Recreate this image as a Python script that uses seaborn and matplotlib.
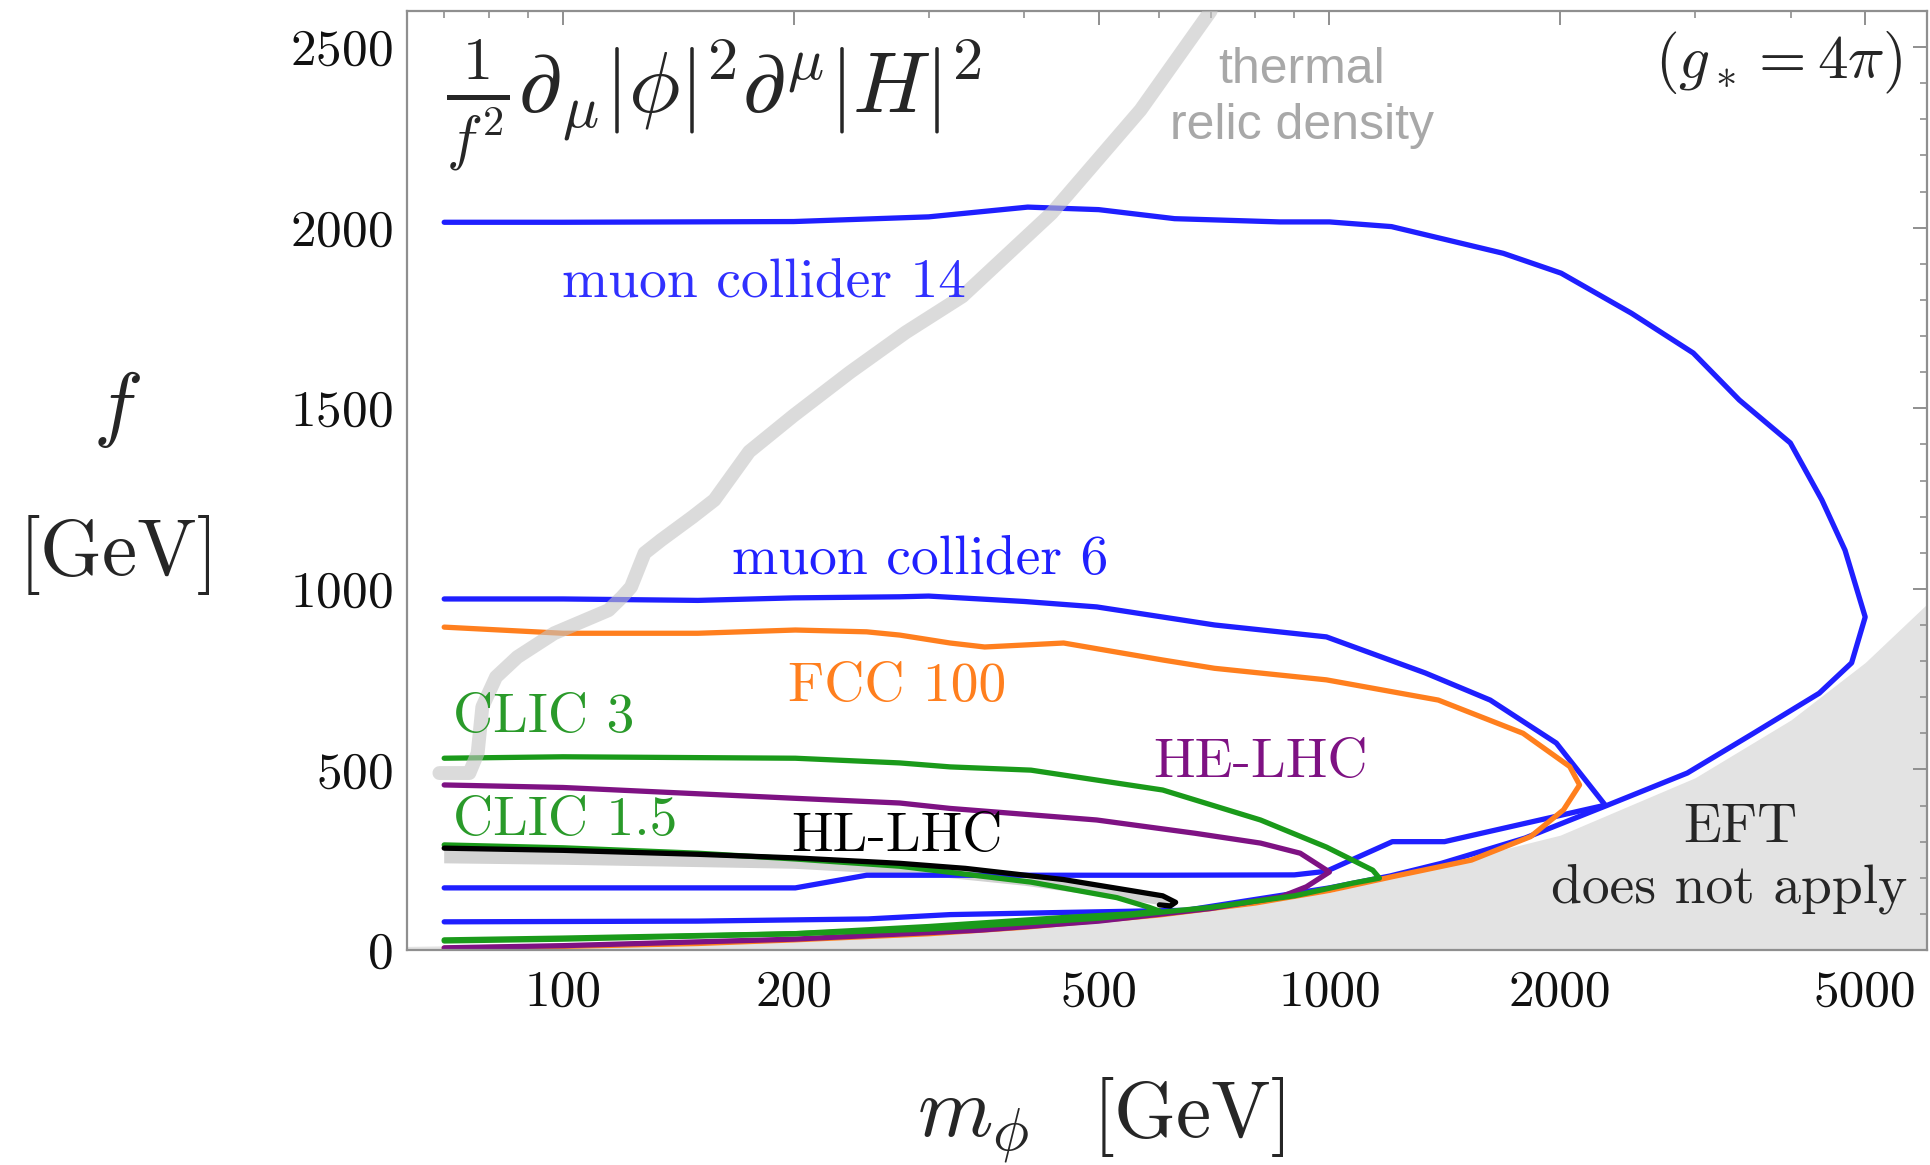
import matplotlib
matplotlib.use("Agg")
import matplotlib.pyplot as plt
import seaborn as sns
import numpy as np
import pandas as pd
from matplotlib.ticker import FixedLocator, MultipleLocator, NullFormatter

# ---------------- data ----------------
mu14_m = [70, 100, 200, 300, 404, 500, 628, 861, 1000, 1205, 1686, 2006, 2478, 2983, 3425, 3993, 4390, 4706, 5000,
          4800, 4355, 3574, 2930, 2300, 1800, 1400, 1200, 1000, 800, 650, 450, 320, 250, 150, 70]
mu14_f = [2015, 2015, 2017, 2030, 2057, 2050, 2025, 2016, 2016, 2003, 1929, 1874, 1763, 1653, 1523, 1404, 1246, 1107, 922,
          795, 711, 600, 490, 400, 310, 240, 205, 172, 140, 110, 104, 98, 86, 80, 78]

mu6_m = [70, 100, 150, 200, 275, 300, 400, 497, 708, 991, 1334, 1621, 1977, 2290,
         1686, 1413, 1208, 991, 900, 600, 249, 201, 70]
mu6_f = [972, 972, 968, 975, 978, 980, 965, 950, 900, 867, 767, 692, 573, 401,
         337, 300, 300, 218, 208, 207, 207, 172, 172]

fcc_m = [70, 100, 150, 201, 249, 275, 320, 355, 450, 606, 708, 991, 1387, 1789, 2058, 2120,
         2020, 1830, 1532, 1208, 1000, 800, 600, 400, 300, 200, 150, 100, 70]
fcc_f = [894, 877, 877, 886, 881, 872, 850, 839, 850, 803, 780, 748, 692, 600, 508, 457,
         388, 314, 249, 203, 165, 130, 97, 63, 45, 28, 18, 10, 5]

helhc_m = [70, 100, 201, 275, 320, 497, 669, 813, 916, 1000, 933, 864, 700, 500, 350, 200, 100, 70]
helhc_f = [457, 450, 420, 407, 392, 360, 323, 296, 268, 216, 175, 147, 115, 80, 55, 30, 12, 6]

clic3_m = [70, 100, 201, 275, 320, 408, 606, 813, 991, 1139, 1162, 1072, 900, 700, 500, 300, 200, 100, 70]
clic3_f = [531, 535, 531, 518, 507, 498, 443, 360, 285, 221, 199, 185, 150, 118, 88, 58, 45, 33, 28]

clic15_m = [70, 100, 150, 201, 275, 350, 408, 528, 582, 600, 550, 450, 300, 200, 100, 70]
clic15_f = [291, 283, 268, 252, 232, 205, 188, 145, 118, 108, 100, 90, 65, 45, 30, 25]

hllhc_m = [70, 100, 150, 201, 275, 335, 450, 549, 606, 630, 620, 600, 500, 400, 300, 200, 100, 70]
hllhc_f = [282, 276, 265, 255, 240, 226, 195, 165, 150, 132, 122, 125, 150, 178, 205, 225, 236, 240]

thermal_m = [69, 75.5, 77.4, 78.5, 81.8, 87.2, 97.4, 114.7, 119.4, 122.7, 127.8, 134.3, 147.6, 157.6,
             175, 200, 237, 280, 332, 434, 567, 700]
thermal_f = [490, 490, 545, 673, 756, 811, 877, 941, 977, 1005, 1099, 1135, 1199, 1246,
             1380, 1480, 1600, 1710, 1810, 2040, 2326, 2600]

eft_m = [62.6, 100, 200, 500, 1000, 2000, 3000, 4000, 5000, 6020]
eft_f = [10, 16, 32, 80, 159, 318, 477, 637, 796, 958]

curve_names = ["muon collider 14", "muon collider 6", "FCC 100", "HE-LHC", "CLIC 3", "CLIC 1.5", "HL-LHC"]
curve_colors = ["#1f1fff", "#1f1fff", "#ff7f1e", "#7e1283", "#1a9a1a", "#1a9a1a", "#000000"]

x_major = [100, 200, 500, 1000, 2000, 5000]
x_major_labels = ["100", "200", "500", "1000", "2000", "5000"]
x_minor = [70, 80, 90, 300, 400, 600, 700, 800, 900, 3000, 4000]

# ---------------- style ----------------
sns.set_theme(style="white")
plt.rcParams["font.family"] = ["cmr10", "DejaVu Serif"]
plt.rcParams["mathtext.fontset"] = "cm"
plt.rcParams["axes.unicode_minus"] = False
plt.rcParams["axes.formatter.use_mathtext"] = True

W, H = 1930, 1165
fig, ax = plt.subplots(figsize=(W / 100, H / 100), dpi=100)
fig.subplots_adjust(left=407 / W, right=1927 / W, bottom=1 - 950 / H, top=1 - 11 / H)


def P(x, y):
    return x / W, 1 - y / H


# EFT shaded region
ax.fill_between(eft_m, eft_f, 0, color="#e3e3e3", lw=0, zorder=0.5)

# HL-LHC thin band
ax.fill(hllhc_m, hllhc_f, color="#d2d2d2", lw=0, zorder=1)

# contours
rows = []
for name, mm, ff in zip(curve_names,
                        [mu14_m, mu6_m, fcc_m, helhc_m, clic3_m, clic15_m],
                        [mu14_f, mu6_f, fcc_f, helhc_f, clic3_f, clic15_f]):
    for i, (a, b) in enumerate(zip(mm, ff)):
        rows.append((name, i, a, b))
df = pd.DataFrame(rows, columns=["curve", "idx", "m", "f"])
pal = dict(zip(curve_names, curve_colors))
sns.lineplot(data=df, x="m", y="f", hue="curve", palette=pal, sort=False, estimator=None,
             lw=3.8, legend=False, ax=ax, zorder=2)

# HL-LHC outline (upper branch and tip)
n_up = 12
sns.lineplot(x=hllhc_m[:n_up], y=hllhc_f[:n_up], sort=False, estimator=None, color="black",
             lw=3.8, ax=ax, zorder=2.5)

# thermal relic density band
sns.lineplot(x=thermal_m, y=thermal_f, sort=False, estimator=None, color="#c4c4c4", alpha=0.6,
             lw=10, ax=ax, zorder=4, solid_capstyle="round", solid_joinstyle="round")

ax.set_xscale("log")
ax.set_xlim(62.6, 6020)
ax.set_ylim(0, 2600)
ax.set_xlabel("")
ax.set_ylabel("")

ax.xaxis.set_major_locator(FixedLocator(x_major))
ax.xaxis.set_minor_locator(FixedLocator(x_minor))
ax.xaxis.set_minor_formatter(NullFormatter())
ax.set_xticklabels(x_major_labels)
ax.yaxis.set_major_locator(MultipleLocator(500))
ax.yaxis.set_minor_locator(MultipleLocator(100))

ax.tick_params(which="both", direction="in", top=True, right=True, color="#8f8f8f", labelcolor="#111111",
               labelsize=37)
ax.tick_params(which="major", length=10, width=1.4)
ax.tick_params(which="minor", length=5, width=1.2)
ax.tick_params(axis="x", pad=14)
ax.tick_params(axis="y", pad=10)
for s in ax.spines.values():
    s.set_color("#8f8f8f")
    s.set_linewidth(1.6)

# ---------------- text ----------------
fig.text(*P(446, 113), r"$\frac{1}{f^2}\partial_\mu|\phi|^2\partial^\mu|H|^2$", fontsize=62,
         ha="left", va="baseline")
fig.text(*P(1902, 62), r"$(g_* = 4\pi)$", fontsize=44, ha="right", va="center")
fig.text(*P(1302, 83), "thermal", fontsize=36, family="Liberation Sans", color="#a8a8a8",
         ha="center", va="baseline")
fig.text(*P(1302, 139), "relic density", fontsize=36, family="Liberation Sans", color="#a8a8a8",
         ha="center", va="baseline")

labels = [
    ("muon collider 14", 562, 283, "#3030ff"),
    ("muon collider 6", 732, 560, "#2020ff"),
    ("FCC 100", 788, 687, "#ff7f1e"),
    ("CLIC 3", 453, 718, "#2a9a2a"),
    ("HE-LHC", 1153, 763, "#7e1283"),
    ("CLIC 1.5", 453, 821, "#2a9a2a"),
    ("HL-LHC", 791, 837, "black"),
]
for t, x, y, c in labels:
    fig.text(*P(x, y), t, fontsize=40, color=c, ha="left", va="center")
fig.text(*P(1740, 828), "EFT", fontsize=40, ha="center", va="center")
fig.text(*P(1729, 889), "does not apply", fontsize=40, ha="center", va="center")

fig.text(*P(117, 410), r"$f$", fontsize=60, ha="center", va="center")
fig.text(*P(119, 555), "[GeV]", fontsize=57, ha="center", va="center")
fig.text(*P(917, 1137), r"$m_\phi$", fontsize=62, ha="left", va="baseline")
fig.text(*P(1093, 1137), "[GeV]", fontsize=57, ha="left", va="baseline")

fig.savefig("out.png", dpi=100)
